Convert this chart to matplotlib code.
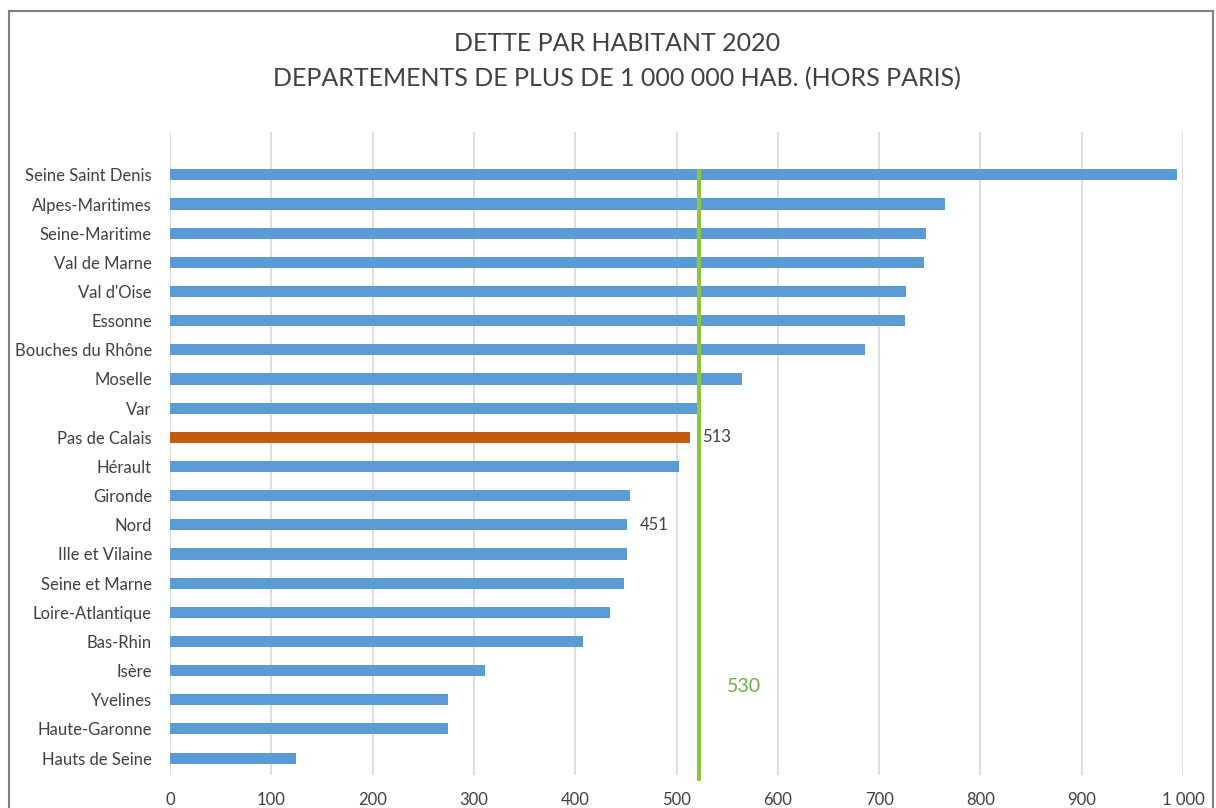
import matplotlib.pyplot as plt
from matplotlib.patches import Rectangle
from matplotlib.ticker import FuncFormatter

departements = ["Seine Saint Denis", "Alpes-Maritimes", "Seine-Maritime", "Val de Marne",
                "Val d'Oise", "Essonne", "Bouches du Rhône", "Moselle", "Var",
                "Pas de Calais", "Hérault", "Gironde", "Nord", "Ille et Vilaine",
                "Seine et Marne", "Loire-Atlantique", "Bas-Rhin", "Isère", "Yvelines",
                "Haute-Garonne", "Hauts de Seine"]
dette = [994, 765, 746, 744, 727, 726, 686, 565, 520, 513, 502, 454, 451, 451,
         448, 434, 408, 311, 274, 274, 124]
highlight = "Pas de Calais"
labelled = ["Pas de Calais", "Nord"]
moyenne_label = "530"
moyenne_pos = 522

plt.rcParams['font.family'] = ['Lato', 'DejaVu Sans']
text_col = "#404040"

fig = plt.figure(figsize=(12.16, 8.08), dpi=100)
ax = fig.add_axes([170 / 1216, 1 - 775 / 808, (1183 - 170) / 1216, (775 - 132) / 808])

ypos = list(range(len(departements)))
colors = ["#C55A11" if d == highlight else "#5B9BD5" for d in departements]
ax.barh(ypos, dette, height=0.38, color=colors, zorder=2)

for y, d, v in zip(ypos, departements, dette):
    if d in labelled:
        ax.annotate(str(v), (v, y), xytext=(9, 0), textcoords="offset points",
                    va="center", ha="left", fontsize=12, color=text_col)

ax.plot([moyenne_pos, moyenne_pos], [-0.2, 20.8], color="#8DC63F", lw=3,
        zorder=3, clip_on=False, solid_capstyle="butt")
ax.annotate(moyenne_label, (moyenne_pos, 17.56), xytext=(20, 0), textcoords="offset points",
            va="center", ha="left", fontsize=14, color="#70AD47")

ax.set_xlim(0, 1000)
ax.set_ylim(20.58, -1.47)
ax.set_xticks(range(0, 1001, 100))
ax.xaxis.set_major_formatter(FuncFormatter(lambda v, p: f"{int(v):,}".replace(",", " ")))
ax.set_yticks(ypos)
ax.set_yticklabels(departements)
ax.tick_params(axis="both", length=0, labelsize=12, labelcolor=text_col)
ax.tick_params(axis="y", pad=13)
ax.tick_params(axis="x", pad=12)
ax.grid(axis="x", color="#D9D9D9", lw=1.2, zorder=0)
for s in ax.spines.values():
    s.set_visible(False)

fig.text(617 / 1216, 1 - 61 / 808,
         "DETTE PAR HABITANT 2020\nDEPARTEMENTS DE PLUS DE 1 000 000 HAB. (HORS PARIS)",
         ha="center", va="center", fontsize=18, color=text_col, linespacing=1.65)

fig.patches.append(Rectangle((9 / 1216, -0.1), (1213 - 9) / 1216, 1.1 - 11 / 808,
                             transform=fig.transFigure, fill=False,
                             edgecolor="#7F7F7F", lw=1.5))

fig.savefig("out.png", dpi=100)
